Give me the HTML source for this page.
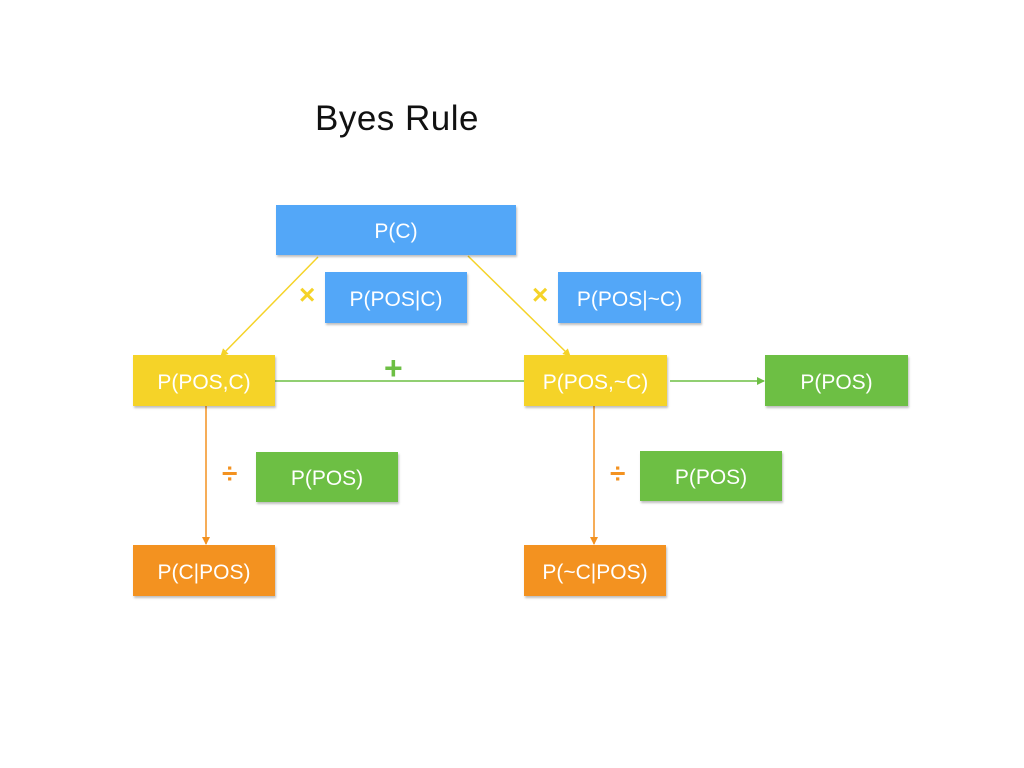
<!DOCTYPE html>
<html><head><style>
body{margin:0;width:1024px;height:768px;background:#fff;position:relative;font-family:"Liberation Sans",sans-serif;overflow:hidden}
.b{position:absolute;color:#fff;font-size:21px;display:flex;align-items:center;justify-content:center;box-shadow:1px 2px 2px rgba(0,0,0,0.25);box-sizing:border-box;padding-top:4px}
.bl{background:#53a7f8}.y{background:#f5d328}.g{background:#6dbf44}.o{background:#f39220}
.t{position:absolute;font-size:35px;color:#111;left:315px;top:99px;letter-spacing:0.5px}
.s{position:absolute;font-weight:bold;font-size:28px}
</style></head><body>
<div class="t">Byes Rule</div>
<svg width="1024" height="768" style="position:absolute;left:0;top:0">
<defs>
<marker id="ay" markerWidth="8" markerHeight="8" refX="7" refY="4" orient="auto" markerUnits="userSpaceOnUse"><path d="M0,0L8,4L0,8z" fill="#f5d328"/></marker>
<marker id="ag" markerWidth="8" markerHeight="8" refX="7" refY="4" orient="auto" markerUnits="userSpaceOnUse"><path d="M0,0L8,4L0,8z" fill="#6dbf44"/></marker>
<marker id="ao" markerWidth="8" markerHeight="8" refX="7" refY="4" orient="auto" markerUnits="userSpaceOnUse"><path d="M0,0L8,4L0,8z" fill="#f39220"/></marker>
</defs>
<line x1="318" y1="257" x2="221" y2="356" stroke="#f5d328" stroke-width="1.5" marker-end="url(#ay)"/>
<line x1="468" y1="256" x2="570" y2="356" stroke="#f5d328" stroke-width="1.5" marker-end="url(#ay)"/>
<line x1="275" y1="381" x2="524" y2="381" stroke="#6dbf44" stroke-width="1.5"/>
<line x1="670" y1="381" x2="764" y2="381" stroke="#6dbf44" stroke-width="1.5" marker-end="url(#ag)"/>
<line x1="206" y1="406" x2="206" y2="544" stroke="#f39220" stroke-width="1.5" marker-end="url(#ao)"/>
<line x1="594" y1="406" x2="594" y2="544" stroke="#f39220" stroke-width="1.5" marker-end="url(#ao)"/>
</svg>
<div class="b bl" style="left:276px;top:205px;width:240px;height:50px">P(C)</div>
<div class="b bl" style="left:325px;top:272px;width:142px;height:51px">P(POS|C)</div>
<div class="b bl" style="left:558px;top:272px;width:143px;height:51px">P(POS|~C)</div>
<div class="b y" style="left:133px;top:355px;width:142px;height:51px">P(POS,C)</div>
<div class="b y" style="left:524px;top:355px;width:143px;height:51px">P(POS,~C)</div>
<div class="b g" style="left:765px;top:355px;width:143px;height:51px">P(POS)</div>
<div class="b g" style="left:256px;top:452px;width:142px;height:50px">P(POS)</div>
<div class="b g" style="left:640px;top:451px;width:142px;height:50px">P(POS)</div>
<div class="b o" style="left:133px;top:545px;width:142px;height:51px">P(C|POS)</div>
<div class="b o" style="left:524px;top:545px;width:142px;height:51px">P(~C|POS)</div>
<div class="s" style="left:299px;top:279px;color:#f5d328">×</div>
<div class="s" style="left:532px;top:279px;color:#f5d328">×</div>
<div class="s" style="left:384px;top:350px;color:#6dbf44;font-size:32px">+</div>
<div class="s" style="left:222px;top:458px;color:#f39220">÷</div>
<div class="s" style="left:610px;top:458px;color:#f39220">÷</div>
</body></html>
